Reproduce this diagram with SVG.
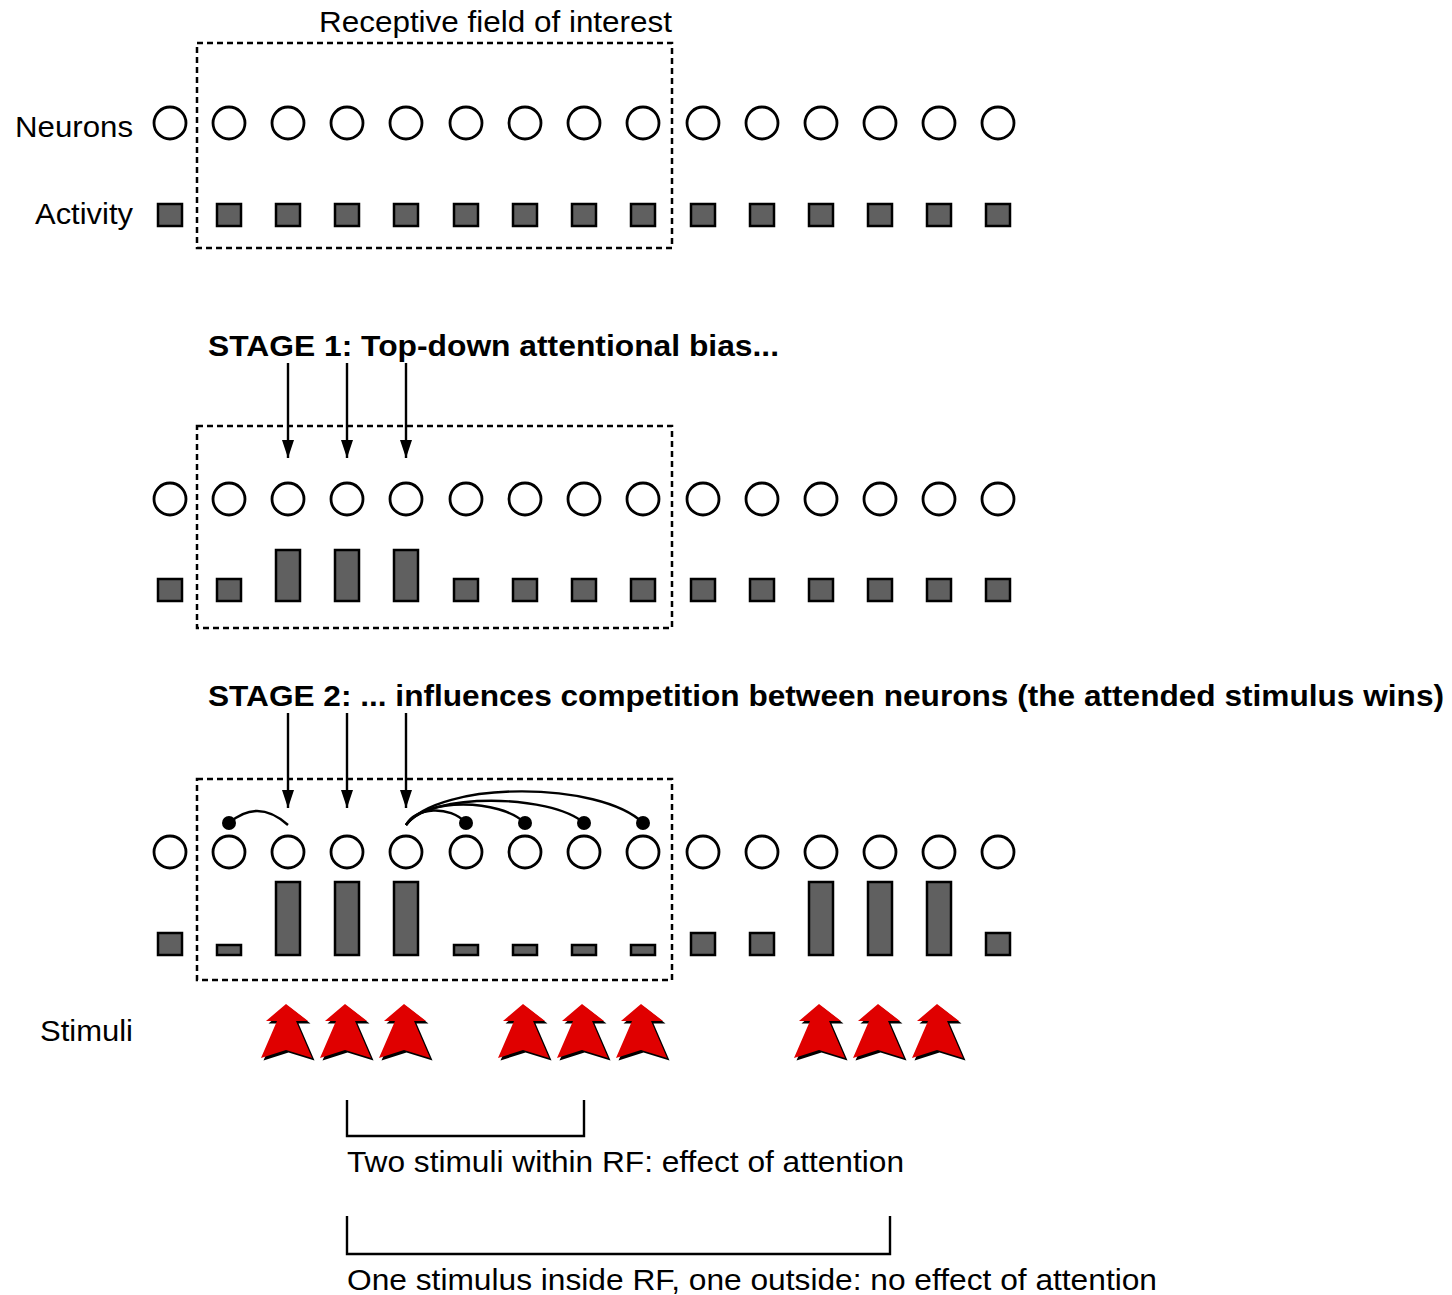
<svg xmlns="http://www.w3.org/2000/svg" width="1452" height="1295" viewBox="0 0 1452 1295">
<style>
  .lbl { font-family: "Liberation Sans", Arial, sans-serif; font-size: 30px; fill: #000; }
  .bold { font-weight: bold; font-size: 30px; }
  .rf { fill: none; stroke: #000; stroke-width: 2.5; stroke-dasharray: 6 4; }
  .neu { fill: #fff; stroke: #000; stroke-width: 2.8; }
  .act { fill: #606060; stroke: #000; stroke-width: 2.5; }
  .ln { fill: none; stroke: #000; stroke-width: 2.4; }
  .dot { fill: #000; }
  .stim { fill: #e00000; }
  .shadow { fill: #000; }
</style>
<defs>
  <marker id="ah" viewBox="0 0 18 12" refX="18" refY="6" markerWidth="18" markerHeight="12" markerUnits="userSpaceOnUse" orient="auto">
    <path d="M0,0 L18,6 L0,12 Z" fill="#000"/>
  </marker>
  <circle id="n" r="16" class="neu"/>
  <g id="arrow">
    <polygon class="shadow" transform="translate(2.5,2.5)" points="0,0 22,17 10,17 26,54 0,46 -25,54 -9,17 -20,17"/>
    <polygon class="stim" points="0,0 22,17 10,17 26,54 0,46 -25,54 -9,17 -20,17"/>
  </g>
</defs>
<rect width="1452" height="1295" fill="#fff"/>

<!-- labels -->
<g id="labels">
  <text class="lbl" x="319" y="32" textLength="353" lengthAdjust="spacingAndGlyphs">Receptive field of interest</text>
  <text class="lbl" x="15" y="137" textLength="118" lengthAdjust="spacingAndGlyphs">Neurons</text>
  <text class="lbl" x="35" y="224" textLength="98" lengthAdjust="spacingAndGlyphs">Activity</text>
  <text class="lbl bold" x="208" y="356" textLength="571" lengthAdjust="spacingAndGlyphs">STAGE 1: Top-down attentional bias...</text>
  <text class="lbl bold" x="208" y="706" textLength="1236" lengthAdjust="spacingAndGlyphs">STAGE 2: ... influences competition between neurons (the attended stimulus wins)</text>
  <text class="lbl" x="40" y="1041" textLength="93" lengthAdjust="spacingAndGlyphs">Stimuli</text>
  <text class="lbl" x="347" y="1172" textLength="557" lengthAdjust="spacingAndGlyphs">Two stimuli within RF: effect of attention</text>
  <text class="lbl" x="347" y="1290" textLength="810" lengthAdjust="spacingAndGlyphs">One stimulus inside RF, one outside: no effect of attention</text>
</g>

<!-- receptive field boxes -->
<g id="rf-boxes">
  <rect class="rf" x="197" y="43" width="475" height="205"/>
  <rect class="rf" x="197" y="426" width="475" height="202"/>
  <rect class="rf" x="197" y="779" width="475" height="201"/>
</g>

<!-- Panel 0: baseline -->
<g id="panel0-neurons">
  <use href="#n" x="170" y="123"/><use href="#n" x="229" y="123"/><use href="#n" x="288" y="123"/><use href="#n" x="347" y="123"/><use href="#n" x="406" y="123"/><use href="#n" x="466" y="123"/><use href="#n" x="525" y="123"/><use href="#n" x="584" y="123"/><use href="#n" x="643" y="123"/><use href="#n" x="703" y="123"/><use href="#n" x="762" y="123"/><use href="#n" x="821" y="123"/><use href="#n" x="880" y="123"/><use href="#n" x="939" y="123"/><use href="#n" x="998" y="123"/>
</g>
<g id="panel0-activity">
  <rect class="act" x="158" y="204" width="24" height="22"/><rect class="act" x="217" y="204" width="24" height="22"/><rect class="act" x="276" y="204" width="24" height="22"/><rect class="act" x="335" y="204" width="24" height="22"/><rect class="act" x="394" y="204" width="24" height="22"/><rect class="act" x="454" y="204" width="24" height="22"/><rect class="act" x="513" y="204" width="24" height="22"/><rect class="act" x="572" y="204" width="24" height="22"/><rect class="act" x="631" y="204" width="24" height="22"/><rect class="act" x="691" y="204" width="24" height="22"/><rect class="act" x="750" y="204" width="24" height="22"/><rect class="act" x="809" y="204" width="24" height="22"/><rect class="act" x="868" y="204" width="24" height="22"/><rect class="act" x="927" y="204" width="24" height="22"/><rect class="act" x="986" y="204" width="24" height="22"/>
</g>

<!-- Panel 1: stage 1 -->
<g id="panel1-neurons">
  <use href="#n" x="170" y="499"/><use href="#n" x="229" y="499"/><use href="#n" x="288" y="499"/><use href="#n" x="347" y="499"/><use href="#n" x="406" y="499"/><use href="#n" x="466" y="499"/><use href="#n" x="525" y="499"/><use href="#n" x="584" y="499"/><use href="#n" x="643" y="499"/><use href="#n" x="703" y="499"/><use href="#n" x="762" y="499"/><use href="#n" x="821" y="499"/><use href="#n" x="880" y="499"/><use href="#n" x="939" y="499"/><use href="#n" x="998" y="499"/>
</g>
<g id="panel1-activity">
  <rect class="act" x="158" y="579" width="24" height="22"/><rect class="act" x="217" y="579" width="24" height="22"/><rect class="act" x="276" y="550" width="24" height="51"/><rect class="act" x="335" y="550" width="24" height="51"/><rect class="act" x="394" y="550" width="24" height="51"/><rect class="act" x="454" y="579" width="24" height="22"/><rect class="act" x="513" y="579" width="24" height="22"/><rect class="act" x="572" y="579" width="24" height="22"/><rect class="act" x="631" y="579" width="24" height="22"/><rect class="act" x="691" y="579" width="24" height="22"/><rect class="act" x="750" y="579" width="24" height="22"/><rect class="act" x="809" y="579" width="24" height="22"/><rect class="act" x="868" y="579" width="24" height="22"/><rect class="act" x="927" y="579" width="24" height="22"/><rect class="act" x="986" y="579" width="24" height="22"/>
</g>

<!-- Panel 2: stage 2 -->
<g id="panel2-neurons">
  <use href="#n" x="170" y="852"/><use href="#n" x="229" y="852"/><use href="#n" x="288" y="852"/><use href="#n" x="347" y="852"/><use href="#n" x="406" y="852"/><use href="#n" x="466" y="852"/><use href="#n" x="525" y="852"/><use href="#n" x="584" y="852"/><use href="#n" x="643" y="852"/><use href="#n" x="703" y="852"/><use href="#n" x="762" y="852"/><use href="#n" x="821" y="852"/><use href="#n" x="880" y="852"/><use href="#n" x="939" y="852"/><use href="#n" x="998" y="852"/>
</g>
<g id="panel2-activity">
  <rect class="act" x="158" y="933" width="24" height="22"/><rect class="act" x="217" y="945" width="24" height="10"/><rect class="act" x="276" y="882" width="24" height="73"/><rect class="act" x="335" y="882" width="24" height="73"/><rect class="act" x="394" y="882" width="24" height="73"/><rect class="act" x="454" y="945" width="24" height="10"/><rect class="act" x="513" y="945" width="24" height="10"/><rect class="act" x="572" y="945" width="24" height="10"/><rect class="act" x="631" y="945" width="24" height="10"/><rect class="act" x="691" y="933" width="24" height="22"/><rect class="act" x="750" y="933" width="24" height="22"/><rect class="act" x="809" y="882" width="24" height="73"/><rect class="act" x="868" y="882" width="24" height="73"/><rect class="act" x="927" y="882" width="24" height="73"/><rect class="act" x="986" y="933" width="24" height="22"/>
</g>

<!-- connectors -->
<g id="connectors">
  <line class="ln" x1="288" y1="363" x2="288" y2="458" marker-end="url(#ah)"/>
  <line class="ln" x1="347" y1="363" x2="347" y2="458" marker-end="url(#ah)"/>
  <line class="ln" x1="406" y1="363" x2="406" y2="458" marker-end="url(#ah)"/>
  <line class="ln" x1="288" y1="713" x2="288" y2="808" marker-end="url(#ah)"/>
  <line class="ln" x1="347" y1="713" x2="347" y2="808" marker-end="url(#ah)"/>
  <line class="ln" x1="406" y1="713" x2="406" y2="808" marker-end="url(#ah)"/>
  <path class="ln" d="M229,823 Q258,798 288,825"/>
  <path class="ln" d="M406,825 C415,807 450,805 466,823"/>
  <path class="ln" d="M406,825 C425,797 500,799 525,823"/>
  <path class="ln" d="M406,825 C430,792 550,794 584,823"/>
  <path class="ln" d="M406,825 C440,780 600,781 643,823"/>
  <circle class="dot" cx="229" cy="823" r="7"/>
  <circle class="dot" cx="466" cy="823" r="7"/>
  <circle class="dot" cx="525" cy="823" r="7"/>
  <circle class="dot" cx="584" cy="823" r="7"/>
  <circle class="dot" cx="643" cy="823" r="7"/>
  <path class="ln" d="M347,1100 V1136 H584 V1100"/>
  <path class="ln" d="M347,1216 V1254 H890 V1216"/>
</g>

<!-- stimuli -->
<g id="stimuli">
  <use href="#arrow" x="286" y="1004"/><use href="#arrow" x="345" y="1004"/><use href="#arrow" x="404" y="1004"/>
  <use href="#arrow" x="523" y="1004"/><use href="#arrow" x="582" y="1004"/><use href="#arrow" x="641" y="1004"/>
  <use href="#arrow" x="819" y="1004"/><use href="#arrow" x="878" y="1004"/><use href="#arrow" x="937" y="1004"/>
</g>
</svg>
